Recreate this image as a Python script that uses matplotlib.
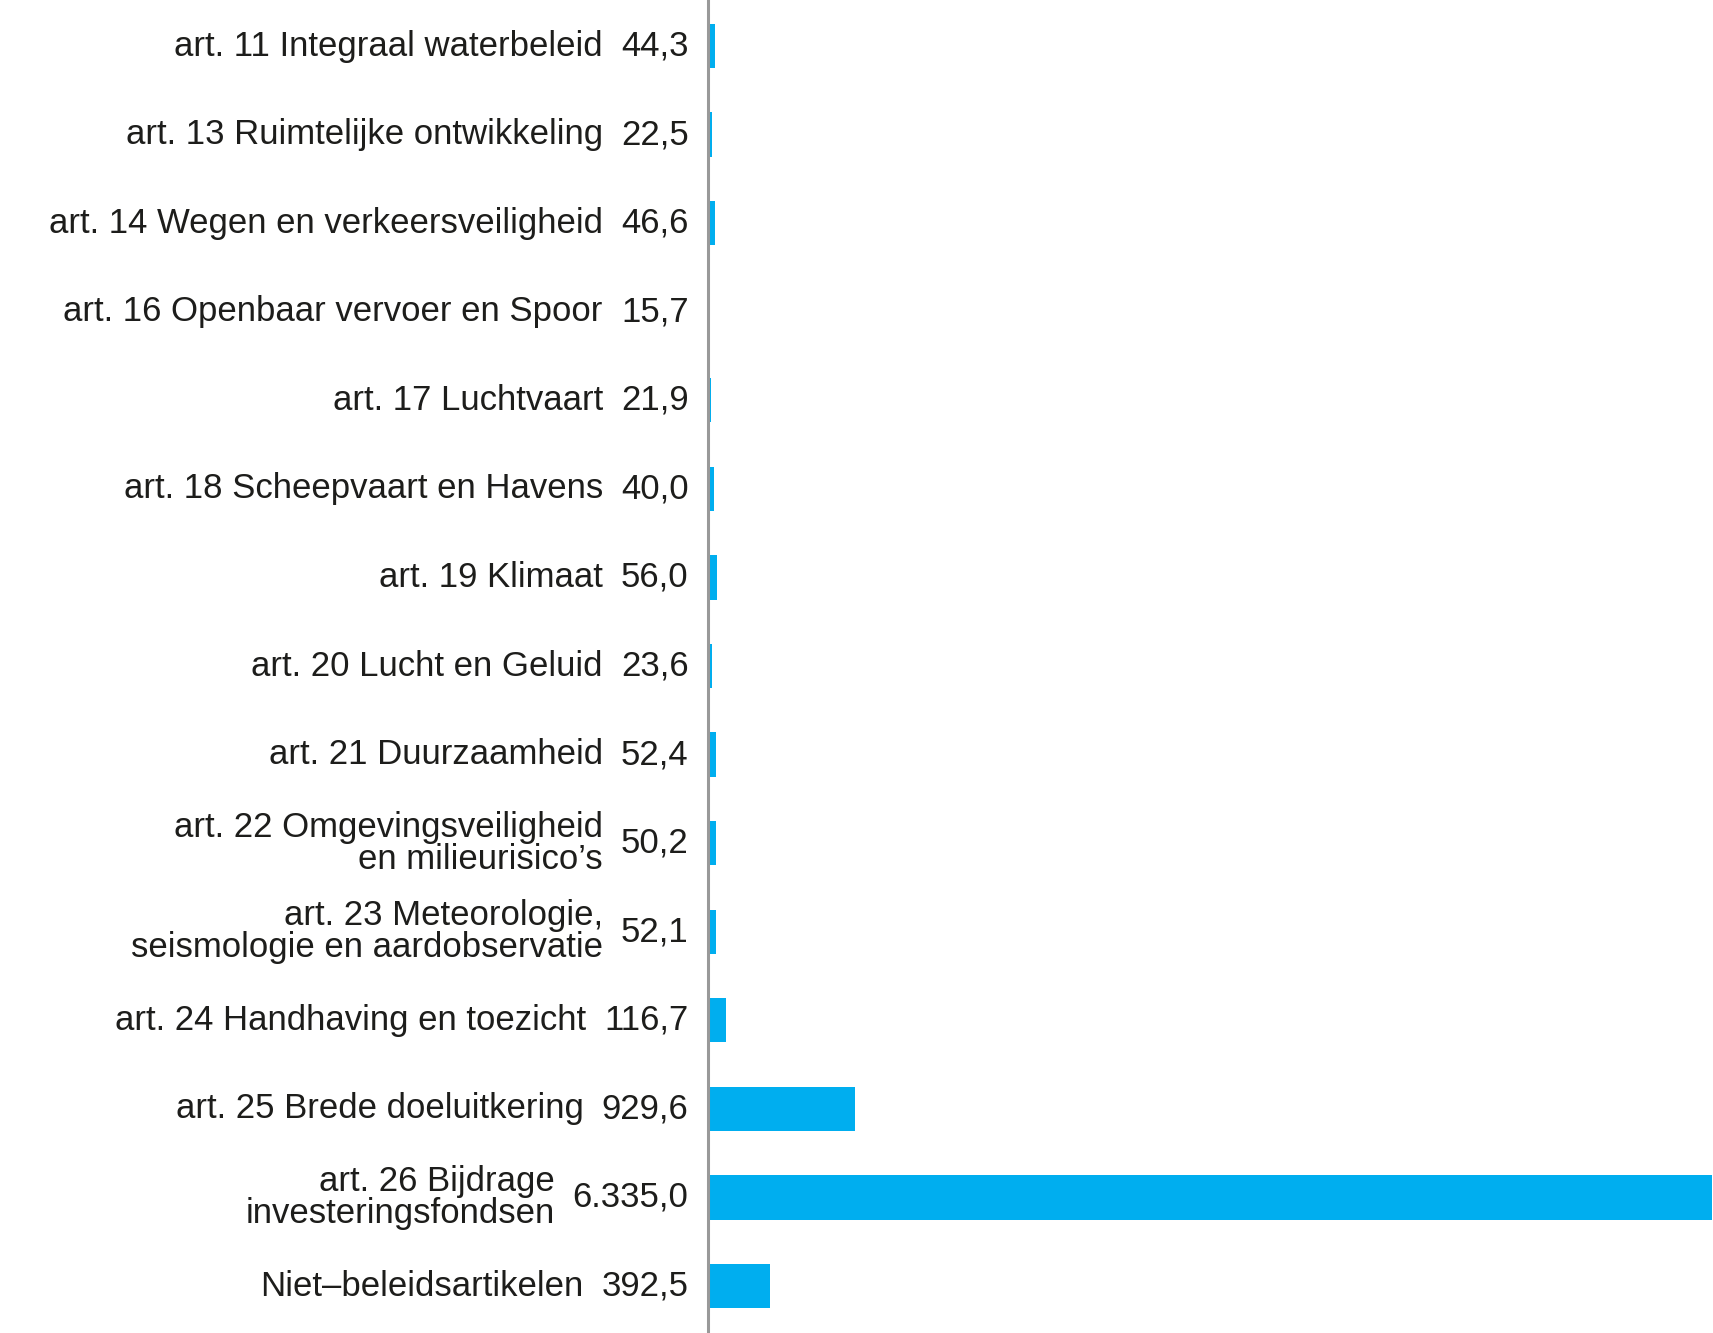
import matplotlib
matplotlib.use("Agg")
import matplotlib.pyplot as plt

plt.rcParams["font.family"] = ["Liberation Sans", "DejaVu Sans"]

labels = [
    "art. 11 Integraal waterbeleid",
    "art. 13 Ruimtelijke ontwikkeling",
    "art. 14 Wegen en verkeersveiligheid",
    "art. 16 Openbaar vervoer en Spoor",
    "art. 17 Luchtvaart",
    "art. 18 Scheepvaart en Havens",
    "art. 19 Klimaat",
    "art. 20 Lucht en Geluid",
    "art. 21 Duurzaamheid",
    "art. 22 Omgevingsveiligheid\nen milieurisico\u2019s",
    "art. 23 Meteorologie,\nseismologie en aardobservatie",
    "art. 24 Handhaving en toezicht",
    "art. 25 Brede doeluitkering",
    "art. 26 Bijdrage\ninvesteringsfondsen",
    "Niet\u2013beleidsartikelen",
]
values = [44.3, 22.5, 46.6, 15.7, 21.9, 40.0, 56.0, 23.6, 52.4, 50.2,
          52.1, 116.7, 929.6, 6335.0, 392.5]

bar_color = "#00aeef"
text_color = "#1d1d1b"


def nl_format(v):
    # Dutch notation: 6.335,0
    s = f"{v:,.1f}"
    return s.replace(",", "X").replace(".", ",").replace("X", ".")


fig = plt.figure(figsize=(17.13, 13.33), dpi=100)
ax = fig.add_axes([0.4133, 0.0, 0.5867, 1.0])

pos = list(range(len(labels)))
ax.barh(pos, values, height=0.5, color=bar_color, zorder=2)
ax.set_ylim(14.53, -0.52)
ax.set_xlim(0, 6340)

for side in ["top", "right", "bottom"]:
    ax.spines[side].set_visible(False)
ax.spines["left"].set_color("#999999")
ax.spines["left"].set_linewidth(2.2)
ax.spines["left"].set_zorder(3)
ax.set_xticks([])
ax.set_yticks([])

for i, (lab, v) in enumerate(zip(labels, values)):
    val = ax.annotate(nl_format(v), xy=(0, i), xytext=(-14, 0),
                      textcoords="offset points", ha="right", va="center",
                      fontsize=25, color=text_color)
    ax.annotate(lab, xy=(0, 0.5), xycoords=val, xytext=(-13, 0),
                textcoords="offset points", ha="right", va="center",
                multialignment="right", linespacing=0.95,
                fontsize=25, color=text_color)

fig.savefig("out.png", dpi=100)
